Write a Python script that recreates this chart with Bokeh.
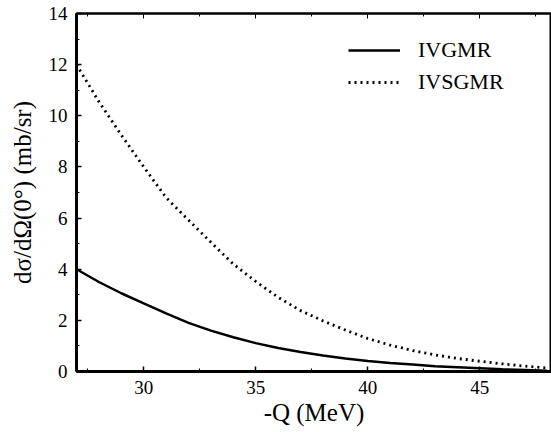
from bokeh.plotting import figure
from bokeh.models import Range1d, LinearAxis, Legend, LegendItem, FixedTicker
from bokeh.embed import file_html
from bokeh.resources import INLINE

q = [27, 28, 29, 30, 31, 32, 33, 34, 35, 36, 37, 38, 39, 40, 41, 42, 43, 44, 45, 46, 47, 48]
ivgmr = [4.0, 3.5, 3.06, 2.66, 2.27, 1.9, 1.6, 1.34, 1.11, 0.92, 0.76, 0.63, 0.51, 0.41,
         0.33, 0.27, 0.21, 0.17, 0.13, 0.09, 0.06, 0.03]
ivsgmr = [12.0, 10.55, 9.25, 8.0, 6.8, 5.92, 5.05, 4.2, 3.52, 2.9, 2.38, 1.98, 1.62, 1.29,
          1.03, 0.82, 0.65, 0.51, 0.4, 0.3, 0.21, 0.14]
x_ticks = [30, 35, 40, 45]
x_minor = [27.5, 32.5, 37.5, 42.5, 47.5]
y_ticks = [0, 2, 4, 6, 8, 10, 12, 14]
y_minor = [1, 3, 5, 7, 9, 11, 13]

FONT = "Liberation Serif"

p = figure(width=551, height=432, output_backend="svg", toolbar_location=None,
           x_range=Range1d(27, 48.2), y_range=Range1d(0, 14),
           min_border_left=76, min_border_right=0, min_border_top=13, min_border_bottom=61)
p.background_fill_color = "white"
p.border_fill_color = "white"
p.grid.visible = False
p.outline_line_color = "black"
p.outline_line_width = 2

r1 = p.line(q, ivgmr, line_color="black", line_width=2.5)
r2 = p.line(q, ivsgmr, line_color="black", line_width=2.8, line_dash="2 4")

xa = p.xaxis[0]
ya = p.yaxis[0]
xa.axis_label = "-Q (MeV)"
ya.axis_label = "dσ/dΩ(0°) (mb/sr)"
for ax in (xa, ya):
    ax.axis_line_width = 3
    ax.major_tick_in = 5
    ax.major_tick_out = 0
    ax.minor_tick_in = 3
    ax.minor_tick_out = 0
    ax.major_tick_line_width = 1.5
    ax.major_label_text_font = FONT
    ax.major_label_text_font_size = "19px"
    ax.major_label_text_color = "black"
    ax.axis_label_text_font = FONT
    ax.axis_label_text_font_size = "25px"
    ax.axis_label_text_font_style = "normal"
    ax.axis_label_text_color = "black"
    ax.major_label_standoff = 9

xa.ticker = FixedTicker(ticks=x_ticks, minor_ticks=x_minor)
ya.ticker = FixedTicker(ticks=y_ticks, minor_ticks=y_minor)
xa.major_label_standoff = 9
xa.axis_label_standoff = 2
ya.axis_label_standoff = 10

top = LinearAxis(ticker=FixedTicker(ticks=x_ticks, minor_ticks=x_minor),
                 major_label_overrides={t: "" for t in x_ticks},
                 axis_line_width=2, major_label_standoff=0,
                 major_tick_in=5, major_tick_out=0, minor_tick_in=3, minor_tick_out=0)
p.add_layout(top, "above")

legend = Legend(items=[LegendItem(label="IVGMR", renderers=[r1]),
                       LegendItem(label="IVSGMR", renderers=[r2])],
                location=(272, 273), orientation="vertical")
legend.border_line_color = None
legend.background_fill_alpha = 0
legend.padding = 0
legend.spacing = 0
legend.glyph_width = 52
legend.glyph_height = 32
legend.label_height = 32
legend.label_standoff = 18
legend.label_text_font = FONT
legend.label_text_font_size = "22px"
legend.label_text_color = "black"
p.add_layout(legend, "center")

open("out.html", "w").write(file_html(p, INLINE))
